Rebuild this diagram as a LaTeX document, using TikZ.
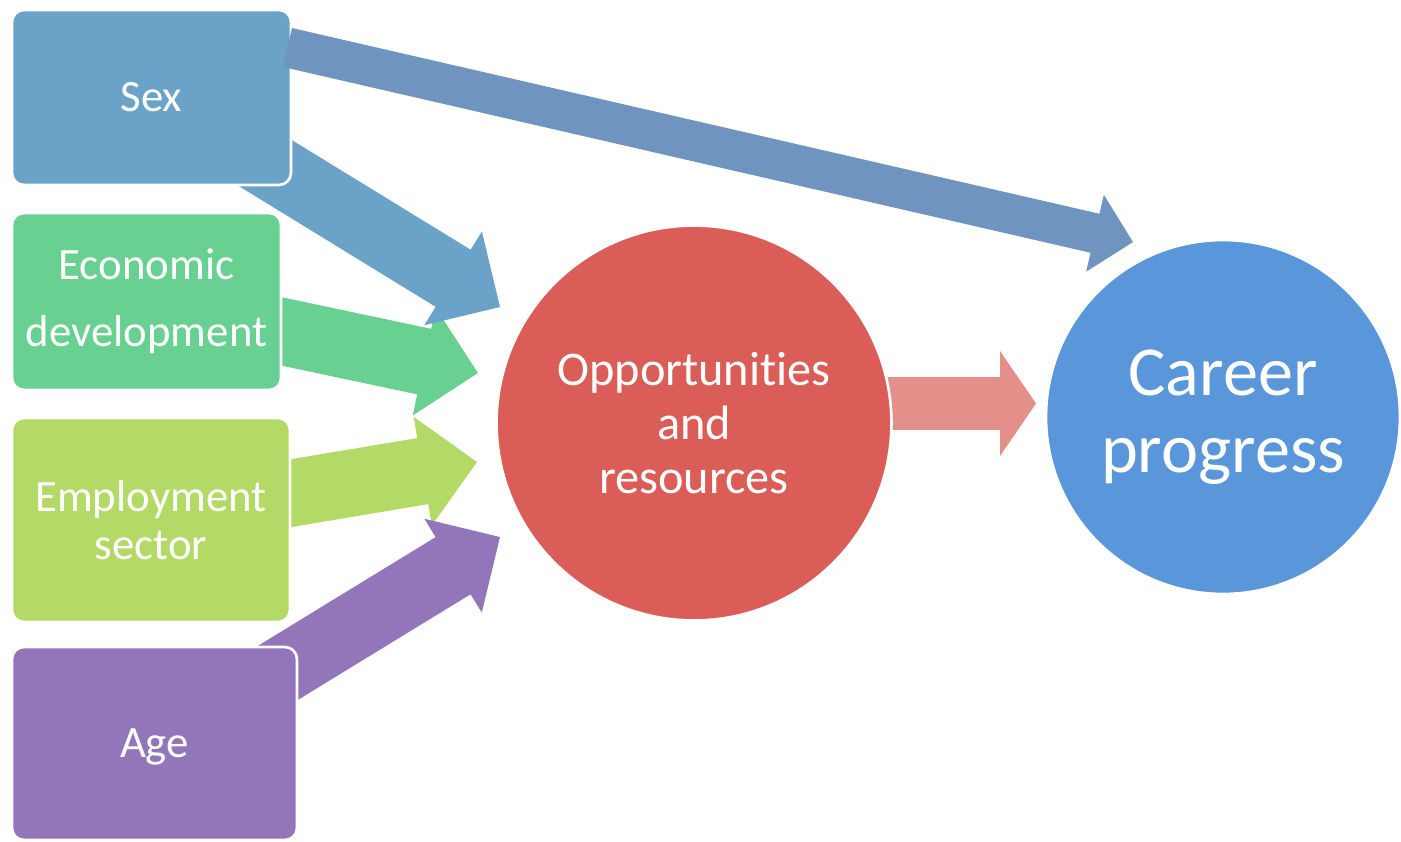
\documentclass[tikz,border=0pt]{standalone}
\usepackage{fontspec}
\setmainfont{Carlito}[Ligatures=NoCommon]
\usepackage{tikz}
\usetikzlibrary{calc}
\usepackage{xcolor}
\definecolor{sexblue}{RGB}{107,163,200}
\definecolor{linkblue}{RGB}{112,148,192}
\definecolor{econgreen}{RGB}{104,208,144}
\definecolor{sectorlime}{RGB}{179,217,102}
\definecolor{agepurple}{RGB}{146,118,185}
\definecolor{oppred}{RGB}{219,93,87}
\definecolor{linkred}{RGB}{227,143,138}
\definecolor{careerblue}{RGB}{90,150,218}

% block arrow: #1 fill, #2 tail, #3 tip, #4 half shaft, #5 half head, #6 head length
\newcommand{\blockarrow}[6]{%
  \coordinate (bb) at ($(#3)!#6!(#2)$);
  \fill[#1] ($(#2)!#4!90:(#3)$) -- ($(bb)!#4!90:(#3)$) -- ($(bb)!#5!90:(#3)$)
    -- (#3) -- ($(bb)!#5!-90:(#3)$) -- ($(bb)!#4!-90:(#3)$)
    -- ($(#2)!#4!-90:(#3)$) -- cycle;
}

\begin{document}
\begin{tikzpicture}[
  x=0.02cm, y=-0.02cm,
  factor/.style={rectangle,rounded corners=0.24cm,draw=white,line width=1.5pt,
                 text=white,align=center,inner sep=0pt,
                 font=\fontsize{25.5}{27}\selectfont},
  hub/.style={circle,draw=white,line width=1.5pt,text=white,
              align=center,inner sep=0pt},
]
\useasboundingbox (0,0) rectangle (1401,842);

%% Arrow ends (most tails sit under the boxes)
\coordinate (sex-c)    at (287.5,47.5); \coordinate (career-in)  at (1133,242);
\coordinate (sex-o)    at (244,150);    \coordinate (opp-in1)    at (500,307);
\coordinate (econ-o)   at (250,324.7);  \coordinate (opp-in2)    at (478,373);
\coordinate (sector-o) at (250,500);    \coordinate (opp-in3)    at (477,462);
\coordinate (age-o)    at (244,693.6);  \coordinate (opp-in4)    at (500,537);
\coordinate (opp-out)  at (800,403.5);  \coordinate (career-in2) at (1036,403.5);

% Arrows into the middle circle
\blockarrow{econgreen}{econ-o}{opp-in2}{0.67cm}{1.1cm}{1.1cm}
\blockarrow{sectorlime}{sector-o}{opp-in3}{0.67cm}{1.1cm}{1.1cm}
\blockarrow{sexblue}{sex-o}{opp-in1}{0.67cm}{1.1cm}{1.1cm}
\blockarrow{agepurple}{age-o}{opp-in4}{0.67cm}{1.1cm}{1.1cm}

% Outgoing link
\blockarrow{linkred}{opp-out}{career-in2}{0.53cm}{1.05cm}{0.72cm}

%% Factors
\node[factor,fill=sexblue,minimum width=5.58cm,minimum height=3.5cm]
  (sex) at (151.5,97.5) {Sex};
\node[factor,fill=econgreen,minimum width=5.38cm,minimum height=3.54cm,
      font=\fontsize{25.5}{38}\selectfont]
  (econ) at (146.5,301.5) {Economic\\development};
\node[factor,fill=sectorlime,minimum width=5.56cm,minimum height=4.08cm]
  (sector) at (151,520) {Employment\\sector};
\node[factor,fill=agepurple,minimum width=5.7cm,minimum height=3.86cm,
      text depth=0pt]
  (age) at (154.5,743.5) {Age};

%% Circles
\node[hub,fill=oppred,minimum size=7.9cm,font=\fontsize{27.5}{30.7}\selectfont]
  (opp) at (694,423) {Opportunities\\and\\resources};
\node[hub,fill=careerblue,minimum size=7.08cm,font=\fontsize{40}{44}\selectfont]
  (career) at (1223,417) {Career\\progress};

% Direct link, laid over the Sex box
\blockarrow{linkblue}{sex-c}{career-in}{0.4cm}{0.79cm}{0.78cm}

\end{tikzpicture}
\end{document}
